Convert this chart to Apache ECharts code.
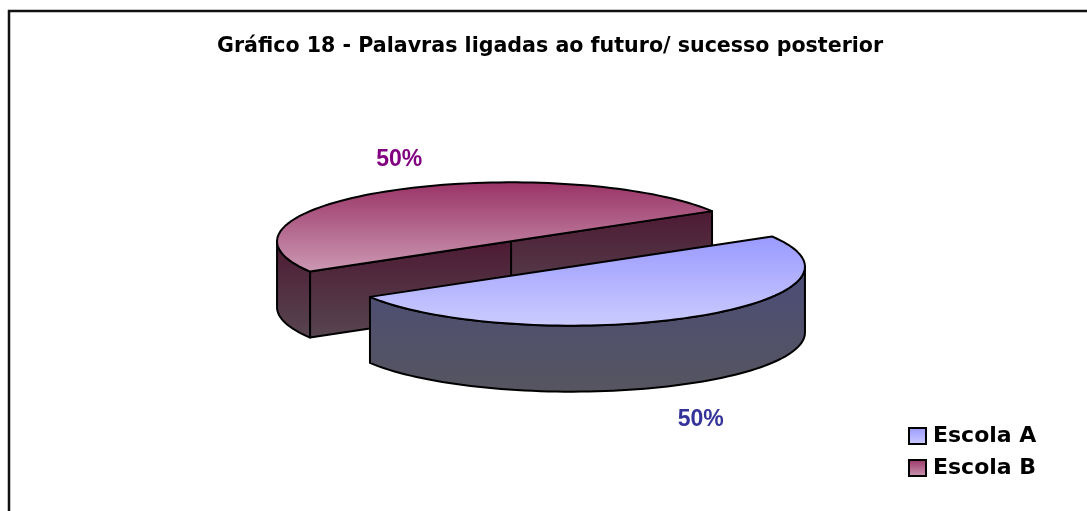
<!DOCTYPE html>
<html>
<head>
<meta charset="utf-8">
<script src="https://cdn.jsdelivr.net/npm/echarts@6/dist/echarts.min.js"></script>
<style>
html, body { margin: 0; padding: 0; background: #fff; }
#chart { width: 1087px; height: 511px; }
</style>
</head>
<body>
<div id="chart"></div>
<script>
// data
var categories = ['Escola A', 'Escola B'];
var values = [50, 50];

// look of each slice (top face gradient, side gradient, label colour)
var topColors = [['#9999ff', '#ccccff'], ['#993366', '#cc99b3']];
var sideColors = [['#4b4c78', '#56555f'], ['#4d1a33', '#574650']];
var labelColors = ['#333399', '#800080'];

// 3d pie layout (pixels)
var CX = 541, CY = 254, RX = 234, RY = 59, DEPTH = 66;
var START = 30.8;   // angle of first cut, degrees
var EXPLODE = 0.25;

var chart = echarts.init(document.getElementById('chart'));

function grad(c) {
  return new echarts.graphic.LinearGradient(0, 0, 0, 1, [
    { offset: 0, color: c[0] },
    { offset: 1, color: c[1] }
  ]);
}

function rad(d) { return d * Math.PI / 180; }

function pt(cx, cy, a, dy) {
  return [cx + RX * Math.cos(rad(a)), cy - RY * Math.sin(rad(a)) + (dy || 0)];
}

function arc(cx, cy, from, to, dy) {
  var n = Math.max(2, Math.ceil(Math.abs(to - from) / 2));
  var pts = [];
  for (var k = 0; k <= n; k++) {
    pts.push(pt(cx, cy, from + (to - from) * k / n, dy));
  }
  return pts;
}

function renderSlice(i, api) {
  var total = values.reduce(function (s, v) { return s + v; }, 0);
  var before = 0;
  for (var j = 0; j < i; j++) before += values[j];
  var v = api.value(0);
  var a1 = START - before / total * 360;
  var a0 = a1 - v / total * 360;
  var mid = (a0 + a1) / 2;
  var cx = CX + EXPLODE * RX * Math.cos(rad(mid));
  var cy = CY - EXPLODE * RY * Math.sin(rad(mid));
  var side = grad(sideColors[i]);
  var edge = { stroke: '#000', lineWidth: 2, lineJoin: 'round' };
  var children = [];

  // cut faces
  [[a0, a0 - 90], [a1, a1 + 90]].forEach(function (f) {
    if (Math.sin(rad(f[1])) < 0) {
      var e = pt(cx, cy, f[0]);
      children.push({
        type: 'polygon',
        shape: { points: [[cx, cy], e, [e[0], e[1] + DEPTH], [cx, cy + DEPTH]] },
        style: Object.assign({ fill: side }, edge)
      });
    }
  });

  // front wall
  for (var k = -2; k <= 1; k++) {
    var lo = Math.max(a0, 180 + 360 * k);
    var hi = Math.min(a1, 360 + 360 * k);
    if (lo < hi) {
      var topArc = arc(cx, cy, lo, hi, 0);
      var botArc = arc(cx, cy, lo, hi, DEPTH).reverse();
      children.push({
        type: 'polygon',
        shape: { points: topArc.concat(botArc) },
        style: Object.assign({ fill: side }, edge)
      });
    }
  }

  // top face
  children.push({
    type: 'polygon',
    shape: { points: [[cx, cy]].concat(arc(cx, cy, a0, a1, 0)) },
    style: Object.assign({ fill: grad(topColors[i]) }, edge)
  });

  // percentage label
  var s = Math.sin(rad(mid));
  children.push({
    type: 'text',
    style: {
      text: Math.round(v / total * 100) + '%',
      x: cx + (RX + 2) * Math.cos(rad(mid)) + 9,
      y: cy - (RY + 39) * s + (s < 0 ? DEPTH : 0) + 3,
      fill: labelColors[i],
      fontSize: 23,
      fontWeight: 'bold',
      fontFamily: 'Liberation Sans, Arial, sans-serif',
      align: 'center',
      verticalAlign: 'middle'
    }
  });

  return { type: 'group', children: children };
}

var series = categories.map(function (name, i) {
  return {
    name: name,
    type: 'custom',
    coordinateSystem: 'none',
    z: 10 - i,
    silent: true,
    itemStyle: { color: topColors[i][0] },
    data: [values[i]],
    renderItem: function (params, api) { return renderSlice(i, api); }
  };
});

var option = {
  animation: false,
  backgroundColor: '#fff',
  title: {
    text: 'Gráfico 18 - Palavras ligadas ao futuro/ sucesso posterior',
    left: 217,
    top: 36,
    padding: 0,
    textStyle: {
      fontFamily: 'DejaVu Sans, sans-serif',
      fontSize: 20.6,
      fontWeight: 'bold',
      color: '#000'
    }
  },
  legend: {
    orient: 'vertical',
    left: 908,
    top: 425,
    padding: 0,
    itemWidth: 17,
    itemHeight: 16,
    itemGap: 10,
    icon: 'rect',
    selectedMode: false,
    textStyle: {
      fontFamily: 'DejaVu Sans, sans-serif',
      fontSize: 22,
      fontWeight: 'bold',
      color: '#000',
      padding: [0, 0, 0, 2]
    },
    data: categories.map(function (name, i) {
      return {
        name: name,
        itemStyle: { color: grad(topColors[i]), borderColor: '#000', borderWidth: 2 }
      };
    })
  },
  graphic: [{
    type: 'rect',
    shape: { x: 9, y: 11, width: 1100, height: 520 },
    style: { fill: 'none', stroke: '#111', lineWidth: 2.5 },
    silent: true
  }],
  series: series
};

chart.setOption(option);
</script>
</body>
</html>
